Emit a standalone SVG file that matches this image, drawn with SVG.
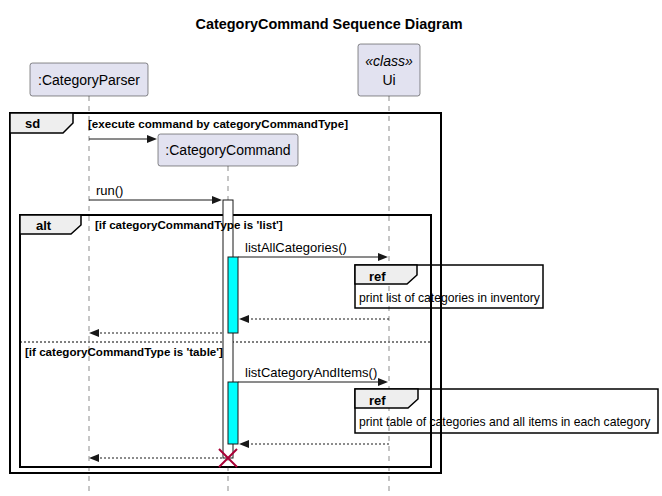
<svg xmlns="http://www.w3.org/2000/svg" width="662" height="496" viewBox="0 0 662 496">
<defs>
<style>
text{font-family:"Liberation Sans",Arial,sans-serif;fill:#000}
.title{font-size:14.5px;font-weight:bold}
.part{fill:#E2E2F0;stroke:#181818;stroke-width:0.5}
.pt{font-size:14px}
.life{stroke:#181818;stroke-width:0.5;stroke-dasharray:5,5}
.frame{fill:none;stroke:#000;stroke-width:2}
.tab{fill:#EEEEEE;stroke:#000;stroke-width:1.5}
.tabt{font-size:13px;font-weight:bold}
.guard{font-size:11.6px;font-weight:bold}
.msg{stroke:#181818;stroke-width:1}
.ret{stroke:#181818;stroke-width:1;stroke-dasharray:2,2}
.mt{font-size:13px}
.act{fill:#FFFFFF;stroke:#181818;stroke-width:1}
.cy{fill:#00FFFF;stroke:#181818;stroke-width:1}
.refbox{fill:none;stroke:#000;stroke-width:1.5}
.reft{font-size:12.2px}
.head{fill:#181818}
</style>
</defs>
<text class="title" x="329" y="29" text-anchor="middle" textLength="267" lengthAdjust="spacingAndGlyphs">CategoryCommand Sequence Diagram</text>

<g id="frame-sd">
<rect class="frame" x="10" y="113" width="431" height="360"/>
</g>
<g id="frame-alt">
<rect class="frame" x="20" y="215" width="411" height="252"/>
<line x1="20" y1="342" x2="431" y2="342" stroke="#000" stroke-width="1" stroke-dasharray="2,2"/>
</g>

<g id="lifelines">
<line class="life" x1="89" y1="96" x2="89" y2="492"/>
<line class="life" x1="228" y1="166" x2="228" y2="492"/>
<line class="life" x1="389" y1="96" x2="389" y2="492"/>
</g>

<g id="CategoryParser">
<rect class="part" x="30" y="63" width="118" height="33" rx="2.5"/>
<text class="pt" x="89" y="85" text-anchor="middle">:CategoryParser</text>
</g>
<g id="CategoryCommand">
<rect class="part" x="158" y="134" width="140" height="32" rx="2.5"/>
<text class="pt" x="228" y="155" text-anchor="middle">:CategoryCommand</text>
<rect class="act" x="223" y="200" width="10" height="258"/>
<rect class="cy" x="228" y="257" width="10" height="76"/>
<rect class="cy" x="228" y="382" width="10" height="62"/>
</g>
<g id="Ui">
<rect class="part" x="358" y="44" width="62" height="52" rx="2.5"/>
<text class="pt" x="389" y="66" text-anchor="middle" font-style="italic">«class»</text>
<text class="pt" x="389" y="85" text-anchor="middle">Ui</text>
</g>

<g id="frame-labels">
<path class="tab" d="M10,113 H73 V123 L63,133 H10 Z"/>
<text class="tabt" x="25" y="128">sd</text>
<text class="guard" x="88" y="128" textLength="260" lengthAdjust="spacingAndGlyphs">[execute command by categoryCommandType]</text>
<path class="tab" d="M20,215 H81 V225 L71,234 H20 Z"/>
<text class="tabt" x="36" y="230">alt</text>
<text class="guard" x="95" y="229">[if categoryCommandType is 'list']</text>
<text class="guard" x="25" y="356">[if categoryCommandType is 'table']</text>
</g>

<g id="connectors">
<line class="msg" x1="89" y1="139" x2="150" y2="139"/>
<polygon class="head" points="157,139 147,135 147,143"/>
<line class="msg" x1="89" y1="200" x2="215" y2="200"/>
<polygon class="head" points="222,200 212,196 212,204"/>
<text class="mt" x="96" y="195">run()</text>
<line class="msg" x1="238" y1="257" x2="381" y2="257"/>
<polygon class="head" points="388,257 378,253 378,261"/>
<text class="mt" x="245" y="252">listAllCategories()</text>
<line class="ret" x1="389" y1="319" x2="246" y2="319"/>
<polygon class="head" points="239,319 249,315 249,323"/>
<line class="ret" x1="222" y1="333" x2="96" y2="333"/>
<polygon class="head" points="89,333 99,329 99,337"/>
<line class="msg" x1="238" y1="382" x2="381" y2="382"/>
<polygon class="head" points="388,382 378,378 378,386"/>
<text class="mt" x="245" y="377">listCategoryAndItems()</text>
<line class="ret" x1="389" y1="444" x2="246" y2="444"/>
<polygon class="head" points="239,444 249,440 249,448"/>
<line class="ret" x1="222" y1="458" x2="96" y2="458"/>
<polygon class="head" points="89,458 99,454 99,462"/>
<path d="M219,449 L237,467 M219,467 L237,449" stroke="#A80036" stroke-width="2" fill="none"/>
</g>

<g id="ref-list">
<rect class="refbox" x="355" y="265" width="188" height="43"/>
<path class="tab" d="M355,265 H417 V275 L407,284 H355 Z"/>
<text class="tabt" x="369" y="281">ref</text>
<text class="reft" x="359" y="302">print list of categories in inventory</text>
</g>
<g id="ref-table">
<rect class="refbox" x="355" y="389" width="303" height="44"/>
<path class="tab" d="M355,389 H418 V399 L408,408 H355 Z"/>
<text class="tabt" x="369" y="405">ref</text>
<text class="reft" x="359" y="426">print table of categories and all items in each category</text>
</g>
</svg>
